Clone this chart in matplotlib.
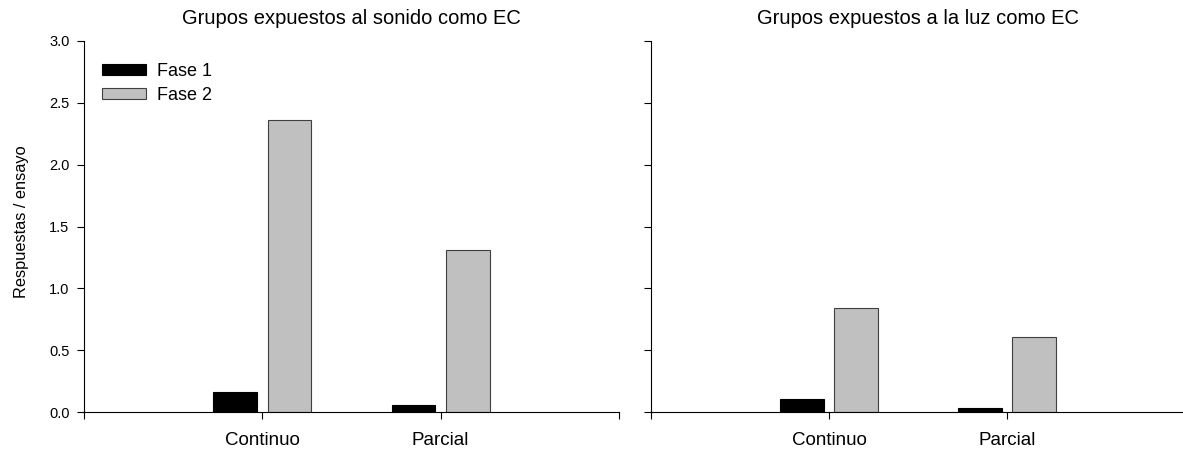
import matplotlib
matplotlib.use("Agg")
import matplotlib.pyplot as plt
import numpy as np

plt.rcParams['font.family'] = ['Liberation Sans', 'DejaVu Sans']

categories = ["Continuo", "Parcial"]
titles = ["Grupos expuestos al sonido como EC", "Grupos expuestos a la luz como EC"]
series_names = ["Fase 1", "Fase 2"]
sonido_fase1 = [0.16, 0.06]
sonido_fase2 = [2.36, 1.31]
luz_fase1 = [0.105, 0.03]
luz_fase2 = [0.84, 0.61]
y_ticks = [0.0, 0.5, 1.0, 1.5, 2.0, 2.5, 3.0]

W, H = 1183, 450
fig = plt.figure(figsize=(W / 100, H / 100), dpi=100)

def px_axes(x0, x1, ytop, ybot):
    return fig.add_axes([x0 / W, 1 - ybot / H, (x1 - x0) / W, (ybot - ytop) / H])

ax1 = px_axes(84, 619, 41, 412)
ax2 = px_axes(651, 1185, 41, 412)

x = np.arange(1, len(categories) + 1)
bw = 0.245
off = 0.153

for ax, f1, f2, title, showy in [(ax1, sonido_fase1, sonido_fase2, titles[0], True),
                                  (ax2, luz_fase1, luz_fase2, titles[1], False)]:
    ax.bar(x - off, f1, bw, color='black', edgecolor='black', linewidth=0.8, label=series_names[0])
    ax.bar(x + off, f2, bw, color='#c0c0c0', edgecolor='#404040', linewidth=0.8, label=series_names[1])
    ax.set_xlim(0, 3)
    ax.set_ylim(0, 3.0)
    ax.set_yticks(y_ticks)
    ax.set_xticks([0, 1, 2, 3])
    ax.set_xticklabels(["", categories[0], categories[1], ""], fontsize=13.5)
    ax.tick_params(axis='x', direction='out', length=5, pad=9.5, width=0.8)
    ax.tick_params(axis='y', direction='out', length=5, width=0.8, labelsize=10.5, pad=5.5)
    if showy:
        ax.set_yticklabels([f"{v:.1f}" for v in y_ticks])
    else:
        ax.set_yticklabels([])
    for s in ['top', 'right']:
        ax.spines[s].set_visible(False)
    for s in ['left', 'bottom']:
        ax.spines[s].set_linewidth(0.8)
    ax.set_title(title, fontsize=14.5, pad=12.2)

ax1.set_ylabel("Respuestas / ensayo", fontsize=11.8, labelpad=14)
ax1.yaxis.label.set_y(0.5135)
ax1.legend(loc='upper left', bbox_to_anchor=(0.003, 0.985), frameon=False, fontsize=13,
           handlelength=2.44, handleheight=0.61, handletextpad=0.6, labelspacing=0.4)

fig.savefig("out.png", dpi=100)
